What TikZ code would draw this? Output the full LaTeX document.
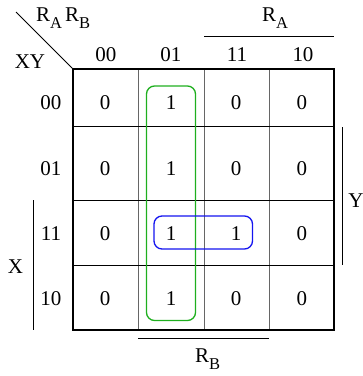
\documentclass[tikz,border=0pt]{standalone}
\usepackage{fontspec}
\setmainfont{Liberation Serif}
\newcommand{\sbx}[1]{\raisebox{-7pt}{\fontsize{16.5}{16.5}\selectfont #1}}
\begin{document}
\begin{tikzpicture}[x=1pt,y=-1pt,
  font=\fontsize{21}{25}\selectfont,
  txt/.style={inner sep=0pt},
  lbl/.style={inner sep=0pt, anchor=base west},
  vline/.style={draw=black!60, line width=1pt},
  hline/.style={draw=black, line width=0.9pt},
  border/.style={draw=black, line width=2.8pt},
  bar/.style={draw=black, line width=0.8pt},
  grpgreen/.style={draw={rgb,255:red,30;green,175;blue,30}, line width=1.3pt, rounded corners=8pt},
  grpblue/.style={draw={rgb,255:red,20;green,20;blue,240}, line width=1.3pt, rounded corners=8pt}]
\useasboundingbox (0,0) rectangle (363,376);
% grid
\draw[vline] (138.5,69) -- (138.5,330);
\draw[vline] (204,69) -- (204,330);
\draw[vline] (269,69) -- (269,330);
\draw[hline] (73,126) -- (334,126);
\draw[hline] (73,200) -- (334,200);
\draw[hline] (73,265) -- (334,265);
\draw[border] (73,69) rectangle (334,330);
% corner diagonal
\coordinate (d1) at (16,12);
\coordinate (d2) at (73,69);
\draw[bar] (d1) -- (d2);
% bars
\draw[bar] (204,36) -- (334,36);
\draw[bar] (138,338) -- (269,338);
\draw[bar] (342,127) -- (342,265);
\draw[bar] (33,200) -- (33,330);
% labels
\node[lbl] (rarb) at (36,21) {R\sbx{A}\hspace{3pt}R\sbx{B}};
\node[lbl] (ra) at (262,21) {R\sbx{A}};
\node[lbl] (rb) at (195,362) {R\sbx{B}};
\node[txt] (xy) at (30,62) {XY};
\node[txt] (xl) at (15.5,267) {X};
\node[txt] (yl) at (356,201) {Y};
% column labels
\node[txt] (c1) at (106,55) {00};
\node[txt] (c2) at (171,55) {01};
\node[txt] (c3) at (237,55) {11};
\node[txt] (c4) at (303,55) {10};
% row labels
\node[txt] (r1) at (51,103) {00};
\node[txt] (r2) at (51,169) {01};
\node[txt] (r3) at (51,234) {11};
\node[txt] (r4) at (51,299) {10};
% cells
\node[txt] (a11) at (105,103) {0};
\node[txt] (a12) at (171,103) {1};
\node[txt] (a13) at (236,103) {0};
\node[txt] (a14) at (302,103) {0};
\node[txt] (a21) at (105,169) {0};
\node[txt] (a22) at (171,169) {1};
\node[txt] (a23) at (236,169) {0};
\node[txt] (a24) at (302,169) {0};
\node[txt] (a31) at (105,234) {0};
\node[txt] (a32) at (171,234) {1};
\node[txt] (a33) at (236,234) {1};
\node[txt] (a34) at (302,234) {0};
\node[txt] (a41) at (105,299) {0};
\node[txt] (a42) at (171,299) {1};
\node[txt] (a43) at (236,299) {0};
\node[txt] (a44) at (302,299) {0};
% groups
\draw[grpgreen] (146.5,86) rectangle (195.5,320.5);
\draw[grpblue] (154,216) rectangle (252.5,249);
\end{tikzpicture}
\end{document}
